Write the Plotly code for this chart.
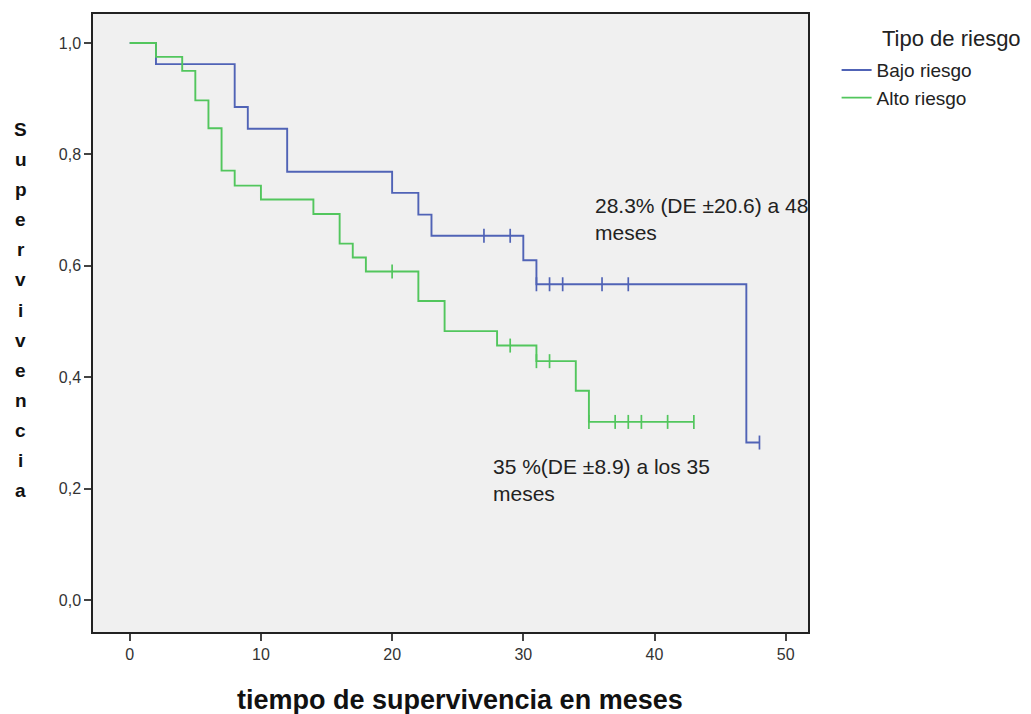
import plotly.graph_objects as go
import numpy as np

# Kaplan-Meier step data
bajo_t = [0, 2, 8, 9, 12, 20, 22, 23, 30, 31, 47, 48]
bajo_s = [1.0, 0.962, 0.885, 0.846, 0.769, 0.731, 0.692, 0.654, 0.610, 0.567, 0.283, 0.283]
bajo_cens = [27, 29, 31, 32, 33, 36, 38, 48]

alto_t = [0, 2, 4, 5, 6, 7, 8, 10, 14, 16, 17, 18, 22, 24, 28, 31, 34, 35, 43]
alto_s = [1.0, 0.975, 0.950, 0.897, 0.847, 0.771, 0.744, 0.719, 0.693, 0.640, 0.615,
          0.590, 0.537, 0.483, 0.457, 0.429, 0.376, 0.320, 0.320]
alto_cens = [20, 29, 31, 32, 35, 37, 38, 39, 41, 43]

x_ticks = [0, 10, 20, 30, 40, 50]
y_ticks = [0.0, 0.2, 0.4, 0.6, 0.8, 1.0]
y_ticklabels = ["0,0", "0,2", "0,4", "0,6", "0,8", "1,0"]

BLUE = "#5063b6"
GREEN = "#52c65d"
FONT = "Liberation Sans, Arial, sans-serif"


def step_value(ts, ss, t):
    idx = np.searchsorted(ts, t, side="right") - 1
    return ss[idx]


fig = go.Figure()
for name, ts, ss, cens, col in [
    ("Bajo riesgo", bajo_t, bajo_s, bajo_cens, BLUE),
    ("Alto riesgo", alto_t, alto_s, alto_cens, GREEN),
]:
    fig.add_trace(go.Scatter(x=ts, y=ss, mode="lines", line=dict(color=col, width=1.9, shape="hv"),
                             name=name, showlegend=True))
    fig.add_trace(go.Scatter(x=cens, y=[step_value(ts, ss, c) for c in cens], mode="markers",
                             marker=dict(symbol="line-ns", size=10, line=dict(color=col, width=1.7)),
                             showlegend=False, hoverinfo="skip"))

axis_common = dict(showline=True, linecolor="#222", linewidth=1.5, mirror=True,
                   ticks="outside", ticklen=7, tickcolor="#444", tickwidth=1.5,
                   showgrid=False, zeroline=False,
                   tickfont=dict(family=FONT, size=16, color="#333"))

fig.update_layout(
    width=1031, height=714,
    margin=dict(l=93, r=223, t=12, b=82),
    paper_bgcolor="white", plot_bgcolor="#f0f0f0",
    xaxis=dict(range=[-2.8, 51.7], tickvals=x_ticks, **axis_common),
    yaxis=dict(range=[-0.057, 1.052], tickvals=y_ticks, ticktext=y_ticklabels, **axis_common),
    legend=dict(x=1.04, y=0.94, xanchor="left", yanchor="top", bgcolor="rgba(0,0,0,0)",
                font=dict(family=FONT, size=19, color="#222"), itemwidth=30,
                tracegroupgap=0),
    font=dict(family=FONT),
)

# Legend title
fig.add_annotation(text="Tipo de riesgo", xref="paper", yref="paper", x=1.1, y=0.961,
                   xanchor="left", yanchor="middle", showarrow=False,
                   font=dict(family=FONT, size=22, color="#222"))

# x-axis title
fig.add_annotation(text="<b>tiempo de supervivencia en meses</b>", xref="paper", yref="paper",
                   x=0.513, y=-0.11, xanchor="center", yanchor="middle", showarrow=False,
                   font=dict(family=FONT, size=27, color="#111"))

# vertical stacked y-axis title
letters = list("Supervivencia")
y_top_px, y_bot_px = 128, 490
plot_top, plot_h = 12, 620
for i, ch in enumerate(letters):
    ypx = y_top_px + (y_bot_px - y_top_px) * i / (len(letters) - 1)
    fig.add_annotation(text=f"<b>{ch}</b>", xref="paper", yref="paper",
                       x=-0.101, y=1 - (ypx - plot_top) / plot_h,
                       xanchor="center", yanchor="middle", showarrow=False,
                       font=dict(family=FONT, size=19, color="#111"))

# In-plot annotations
fig.add_annotation(text="28.3% (DE ±20.6) a 48<br>meses", x=35.3, y=0.733, xref="x", yref="y",
                   xanchor="left", yanchor="top", showarrow=False, align="left",
                   font=dict(family=FONT, size=21, color="#222"))
fig.add_annotation(text="35 %(DE ±8.9) a los 35<br>meses", x=27.55, y=0.265, xref="x", yref="y",
                   xanchor="left", yanchor="top", showarrow=False, align="left",
                   font=dict(family=FONT, size=21, color="#222"))

fig.write_html("out.html")
